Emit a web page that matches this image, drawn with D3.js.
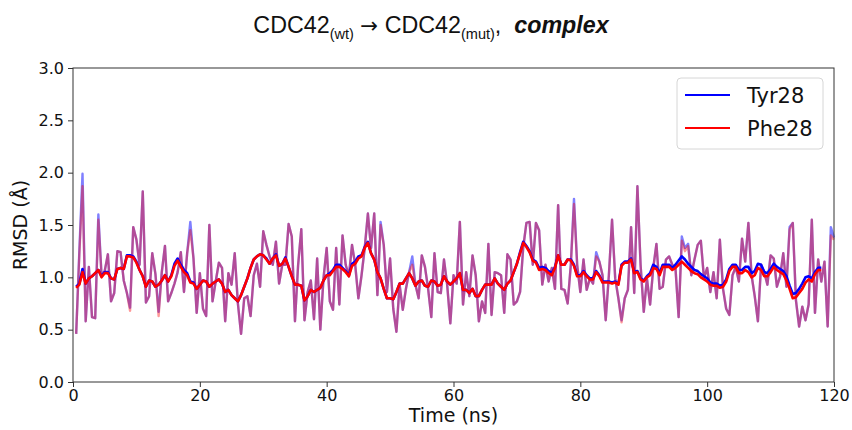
<!DOCTYPE html>
<html>
<head>
<meta charset="utf-8">
<script src="https://cdn.jsdelivr.net/npm/d3@7"></script>
<style>
  body { margin: 0; background: #fff; }
  svg { display: block; }
</style>
</head>
<body>
<svg id="chart" width="852" height="430"></svg>
<script>
// RMSD traces, sampled every 0.5 ns starting at 0.5 ns
const rawStep = 0.5

const tyrRaw = [
  0.46,1.25,1.99,0.58,1.10,0.62,0.61,1.60,1.02,1.06,
  1.22,0.77,0.85,1.25,1.24,0.97,0.85,0.71,1.48,1.36,
  1.12,1.82,0.76,0.82,1.23,1.03,0.67,1.05,1.30,0.77,
  0.85,0.94,1.05,1.24,0.86,1.23,1.53,1.18,0.66,1.04,
  0.70,0.63,1.50,0.77,0.96,1.14,1.09,0.58,1.04,0.93,
  1.23,0.75,0.46,0.80,0.82,0.63,1.02,1.13,0.91,1.44,
  1.31,1.20,1.12,1.34,0.94,1.12,1.12,1.51,1.39,0.58,
  1.12,1.46,0.59,0.86,0.97,0.60,1.18,0.50,0.99,1.28,
  0.77,0.69,1.28,0.74,1.40,1.12,1.01,1.31,1.12,0.80,
  1.02,1.28,1.61,1.28,1.61,0.83,1.53,1.31,0.86,1.18,
  0.70,0.48,0.93,0.69,0.89,1.05,1.20,0.93,0.80,1.21,
  1.10,0.89,0.62,1.23,0.86,0.85,1.17,0.93,0.56,1.02,
  0.94,1.53,0.74,1.05,0.82,1.21,1.02,0.58,0.77,0.66,
  1.32,0.64,1.05,1.04,1.02,0.66,1.22,1.17,0.74,0.77,
  0.86,1.29,1.52,1.53,1.12,1.52,1.45,0.93,1.12,0.96,
  1.09,0.89,1.69,0.89,0.88,0.75,1.12,1.75,1.12,0.86,
  1.17,0.88,0.99,0.94,1.24,1.15,1.02,0.59,1.02,1.55,
  0.99,0.80,0.59,0.80,0.88,1.48,0.85,1.87,1.12,0.67,
  0.99,0.74,1.09,1.32,0.89,0.91,1.17,1.20,1.12,1.09,
  0.62,1.39,1.28,1.32,1.02,1.17,1.31,1.35,0.99,1.09,
  0.86,1.05,0.80,1.36,0.89,0.70,0.64,1.02,1.10,0.96,
  1.37,1.15,1.52,1.02,0.82,0.58,1.12,1.05,0.93,1.21,
  1.18,0.91,1.01,1.23,0.91,1.48,1.52,0.78,0.53,0.72,
  0.59,0.74,1.55,0.66,1.17,0.96,1.15,0.53,1.48,1.38
]

const pheRaw = [
  0.46,1.22,1.87,0.58,1.10,0.62,0.61,1.55,1.02,1.06,
  1.22,0.77,0.85,1.25,1.24,0.97,0.85,0.68,1.48,1.36,
  1.12,1.82,0.76,0.82,1.23,1.03,0.63,1.05,1.30,0.77,
  0.85,0.94,1.05,1.24,0.86,1.23,1.45,1.18,0.66,1.04,
  0.70,0.63,1.50,0.77,0.96,1.14,1.09,0.58,1.04,0.93,
  1.23,0.75,0.46,0.80,0.82,0.63,1.02,1.13,0.91,1.44,
  1.31,1.20,1.12,1.34,0.94,1.12,1.12,1.51,1.39,0.58,
  1.12,1.46,0.59,0.86,0.97,0.60,1.18,0.50,0.99,1.28,
  0.77,0.69,1.28,0.74,1.40,1.12,1.01,1.31,1.12,0.80,
  1.02,1.28,1.61,1.28,1.61,0.83,1.50,1.31,0.86,1.18,
  0.70,0.48,0.93,0.69,0.89,1.05,1.12,0.93,0.80,1.21,
  1.10,0.89,0.62,1.23,0.86,0.85,1.17,0.93,0.56,1.02,
  0.94,1.53,0.74,1.05,0.82,1.21,1.02,0.58,0.77,0.66,
  1.32,0.64,1.05,1.04,1.02,0.66,1.22,1.17,0.74,0.77,
  0.86,1.29,1.52,1.53,1.12,1.52,1.45,0.93,1.12,0.96,
  1.09,0.89,1.69,0.89,0.88,0.75,1.12,1.70,1.12,0.86,
  1.17,0.88,0.99,0.94,1.20,1.15,1.02,0.59,1.02,1.55,
  0.99,0.80,0.57,0.80,0.88,1.48,0.85,1.87,1.12,0.67,
  0.99,0.74,1.09,1.32,0.89,0.91,1.17,1.20,1.12,1.09,
  0.62,1.35,1.25,1.30,1.02,1.17,1.31,1.35,0.99,1.09,
  0.86,1.05,0.80,1.36,0.89,0.70,0.64,1.02,1.10,0.96,
  1.37,1.15,1.52,1.02,0.82,0.58,1.12,1.05,0.93,1.21,
  1.18,0.91,1.01,1.23,0.91,1.46,1.52,0.78,0.53,0.72,
  0.59,0.74,1.55,0.66,1.17,0.96,1.15,0.53,1.40,1.36
]

// running averages (0.5 .. 118 ns)
const tyrSmooth = [
  0.91,0.94,1.08,0.94,0.99,1.01,1.04,1.07,1.01,1.05,
  1.05,0.99,0.98,1.08,1.09,1.08,1.21,1.21,1.20,1.15,
  1.07,1.01,0.91,0.97,0.96,0.91,0.93,0.97,1.02,0.96,
  1.02,1.13,1.18,1.12,1.07,1.04,0.96,0.95,0.89,0.93,
  0.97,0.96,0.91,0.94,0.96,0.98,0.94,0.86,0.88,0.83,
  0.80,0.77,0.83,0.91,0.99,1.09,1.17,1.20,1.22,1.21,
  1.18,1.13,1.18,1.22,1.11,1.13,1.19,1.10,1.01,0.93,
  0.93,0.92,0.78,0.82,0.88,0.86,0.88,0.90,0.97,1.02,
  1.04,1.07,1.12,1.12,1.09,1.06,1.02,1.13,1.15,1.20,
  1.21,1.29,1.34,1.23,1.17,1.05,0.99,0.89,0.80,0.80,
  0.79,0.86,0.94,0.94,0.99,1.04,0.99,0.92,0.96,0.97,
  0.92,0.91,0.97,0.96,0.92,0.93,1.01,0.96,0.93,0.96,
  0.99,1.04,0.88,0.88,0.85,0.89,0.82,0.82,0.88,0.93,
  0.93,0.93,0.99,0.94,0.91,0.88,0.94,0.97,1.05,1.13,
  1.24,1.34,1.30,1.25,1.17,1.15,1.09,1.10,1.09,1.06,
  1.04,1.10,1.21,1.12,1.12,1.17,1.17,1.12,1.02,1.02,
  1.06,1.02,0.99,0.99,1.06,1.02,0.96,0.96,0.96,0.95,
  0.96,0.94,1.12,1.15,1.15,1.18,1.05,1.06,0.99,0.97,
  1.01,1.04,1.12,1.10,1.04,1.12,1.12,1.12,1.09,1.12,
  1.16,1.20,1.17,1.13,1.10,1.07,1.06,1.03,1.01,0.99,
  0.95,0.94,0.94,0.92,0.93,0.98,1.08,1.12,1.12,1.07,
  1.07,1.10,1.10,1.04,1.06,1.13,1.12,1.05,1.04,1.08,
  1.13,1.10,1.08,1.06,1.01,0.92,0.84,0.85,0.89,0.94,
  1.00,1.01,0.99,1.05,1.09,1.09
]

const pheSmooth = [
  0.90,0.93,1.05,0.94,0.99,1.01,1.04,1.07,1.00,1.04,
  1.04,0.99,0.98,1.08,1.09,1.08,1.20,1.20,1.19,1.14,
  1.07,1.01,0.91,0.97,0.96,0.91,0.93,0.97,1.02,0.96,
  1.01,1.11,1.16,1.10,1.05,1.02,0.95,0.94,0.89,0.93,
  0.97,0.96,0.91,0.94,0.96,0.98,0.94,0.86,0.88,0.83,
  0.80,0.77,0.83,0.91,0.99,1.09,1.17,1.20,1.22,1.21,
  1.17,1.13,1.18,1.21,1.11,1.13,1.18,1.10,1.01,0.93,
  0.93,0.92,0.78,0.82,0.88,0.86,0.88,0.90,0.97,1.02,
  1.02,1.06,1.10,1.10,1.08,1.05,1.01,1.11,1.13,1.18,
  1.20,1.28,1.33,1.23,1.17,1.05,0.99,0.89,0.80,0.80,
  0.79,0.86,0.94,0.94,0.99,1.04,0.99,0.92,0.96,0.97,
  0.92,0.91,0.97,0.96,0.92,0.93,1.01,0.96,0.93,0.96,
  0.99,1.04,0.88,0.88,0.85,0.89,0.82,0.82,0.88,0.93,
  0.93,0.93,0.99,0.94,0.91,0.88,0.94,0.97,1.05,1.13,
  1.23,1.33,1.29,1.24,1.16,1.14,1.07,1.08,1.07,1.04,
  1.02,1.09,1.21,1.12,1.12,1.17,1.16,1.11,1.01,1.01,
  1.05,1.01,0.98,0.98,1.05,1.01,0.95,0.95,0.95,0.94,
  0.95,0.93,1.11,1.14,1.14,1.17,1.04,1.05,0.98,0.96,
  1.00,1.02,1.09,1.08,1.02,1.10,1.10,1.10,1.07,1.09,
  1.12,1.15,1.12,1.09,1.06,1.04,1.03,1.00,0.98,0.96,
  0.93,0.92,0.92,0.90,0.91,0.96,1.06,1.10,1.10,1.04,
  1.04,1.07,1.05,1.00,1.02,1.09,1.07,1.01,1.01,1.05,
  1.10,1.07,1.05,1.03,0.97,0.89,0.80,0.81,0.85,0.89,
  0.95,0.98,0.96,1.03,1.07,1.07
]

const xTicks = [0, 20, 40, 60, 80, 100, 120]
const yTicks = [0.0, 0.5, 1.0, 1.5, 2.0, 2.5, 3.0]
const seriesNames = ['Tyr28', 'Phe28']
const seriesColors = ['#0000ff', '#ff0000']
const rawOpacity = [0.5, 0.4]

const svg = d3.select('#chart')
const margin = { top: 68, right: 18, bottom: 48, left: 73 }
const width = 852 - margin.left - margin.right
const height = 430 - margin.top - margin.bottom

const x = d3.scaleLinear().domain([0, 120]).range([0, width])
const y = d3.scaleLinear().domain([0, 3]).range([height, 0])

const g = svg.append('g')
    .attr('transform', `translate(${margin.left},${margin.top})`)

const line = d3.line()
    .x((d, i) => x((i + 1) * rawStep))
    .y(d => y(d))

// raw traces, translucent
;[tyrRaw, pheRaw].forEach((vals, k) => {
    g.append('path')
        .datum(vals)
        .attr('d', line)
        .attr('fill', 'none')
        .attr('stroke', seriesColors[k])
        .attr('stroke-opacity', rawOpacity[k])
        .attr('stroke-width', 2.4)
        .attr('stroke-linejoin', 'round')
})

// smoothed traces
;[tyrSmooth, pheSmooth].forEach((vals, k) => {
    g.append('path')
        .datum(vals)
        .attr('d', line)
        .attr('fill', 'none')
        .attr('stroke', seriesColors[k])
        .attr('stroke-width', 2.6)
        .attr('stroke-linejoin', 'round')
})

// axes
const xAxis = g.append('g')
    .attr('transform', `translate(0,${height})`)
    .call(d3.axisBottom(x).tickValues(xTicks).tickSize(5).tickPadding(3).tickFormat(d3.format('d')))
const yAxis = g.append('g')
    .call(d3.axisLeft(y).tickValues(yTicks).tickSize(5).tickPadding(4).tickFormat(d3.format('.1f')))

;[xAxis, yAxis].forEach(a => {
    a.select('.domain').remove()
    a.selectAll('line').attr('stroke', '#333').attr('stroke-width', 1)
    a.selectAll('text')
        .attr('fill', '#111')
        .style('font-family', '"DejaVu Sans", sans-serif')
        .style('font-size', '16px')
})

// frame
g.append('rect')
    .attr('width', width)
    .attr('height', height)
    .attr('fill', 'none')
    .attr('stroke', '#333')
    .attr('stroke-width', 1)

// axis labels
svg.append('text')
    .attr('x', margin.left + width / 2)
    .attr('y', 422)
    .attr('text-anchor', 'middle')
    .style('font-family', '"DejaVu Sans", sans-serif')
    .style('font-size', '19px')
    .attr('fill', '#111')
    .text('Time (ns)')

svg.append('text')
    .attr('transform', `translate(27,${margin.top + height / 2}) rotate(-90)`)
    .attr('text-anchor', 'middle')
    .style('font-family', '"DejaVu Sans", sans-serif')
    .style('font-size', '19px')
    .attr('fill', '#111')
    .text('RMSD (Å)')

// title
const title = svg.append('text')
    .attr('transform', 'translate(431,33) scale(0.97,1)')
    .attr('text-anchor', 'middle')
    .style('font-family', '"Liberation Sans", Arial, sans-serif')
    .style('font-size', '24px')
    .attr('fill', '#111')
title.append('tspan').text('CDC42')
title.append('tspan').attr('dy', 6).style('font-size', '15px').text('(wt)')
title.append('tspan').attr('dy', -6).text('\u00a0')
title.append('tspan').style('font-family', '"DejaVu Sans", sans-serif').style('font-size', '22px').text('\u2192')
title.append('tspan').text('\u00a0CDC42')
title.append('tspan').attr('dy', 6).style('font-size', '15px').text('(mut)')
title.append('tspan').attr('dy', -6).text(',\u00a0\u00a0')
title.append('tspan').style('font-weight', 'bold').style('font-style', 'italic').text('complex')

// legend
const lg = svg.append('g').attr('transform', 'translate(677,78)')
lg.append('rect')
    .attr('width', 146)
    .attr('height', 71)
    .attr('rx', 4)
    .attr('fill', '#fff')
    .attr('fill-opacity', 0.8)
    .attr('stroke', '#d6d6d6')
seriesNames.forEach((name, k) => {
    const yy = 17 + k * 33
    lg.append('line')
        .attr('x1', 8).attr('x2', 53)
        .attr('y1', yy).attr('y2', yy)
        .attr('stroke', seriesColors[k])
        .attr('stroke-width', 2)
    lg.append('text')
        .attr('x', 70)
        .attr('y', yy + 7.5)
        .style('font-family', '"DejaVu Sans", sans-serif')
        .style('font-size', '21px')
        .attr('fill', '#111')
        .text(name)
})
</script>
</body>
</html>
